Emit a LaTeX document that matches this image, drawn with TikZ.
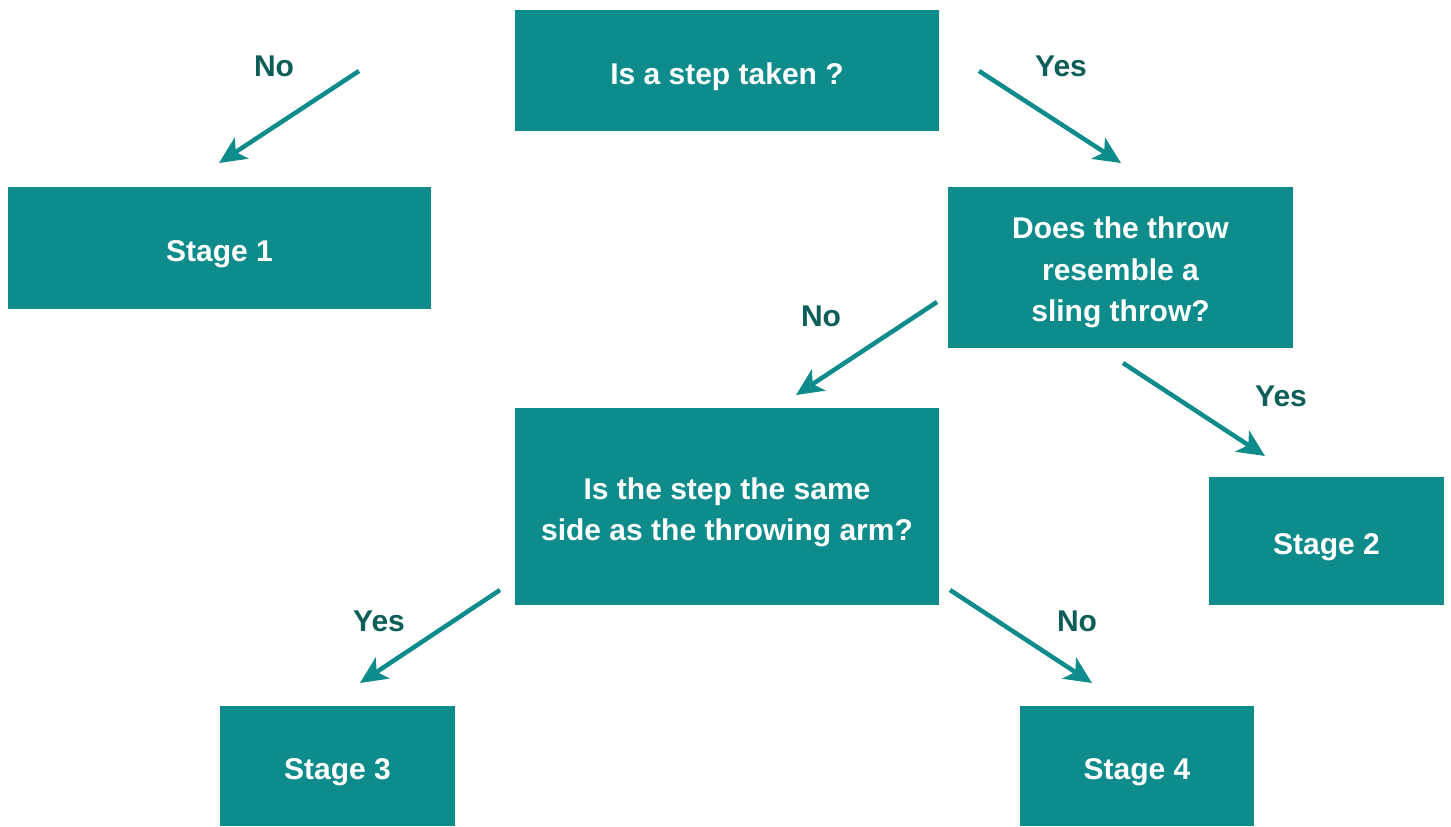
\documentclass[tikz,border=0pt]{standalone}
\usepackage{fontspec}
\setmainfont{Liberation Sans}
\usetikzlibrary{arrows.meta}
\definecolor{boxteal}{HTML}{0E8C8C}
\definecolor{labelteal}{HTML}{0C5E59}
\begin{document}
\begin{tikzpicture}[x=1pt,y=-1pt,
  box/.style={fill=boxteal, inner sep=0pt},
  boxtext/.style={text=white, align=center, inner sep=0pt,
    font=\bfseries\fontsize{30}{41.5}\selectfont},
  answer/.style={text=labelteal, inner sep=0pt, font=\bfseries\fontsize{30}{36}\selectfont},
  arr/.style={draw=boxteal, line width=4.5pt,
    -{Stealth[length=27pt, width=25pt, inset=7pt]}}]
\useasboundingbox (0,0) rectangle (1451,827);

% decision and stage boxes
\node[box, minimum width=424pt, minimum height=121pt] (q1) at (727,70.5) {};
\node[box, minimum width=423pt, minimum height=122pt] (s1) at (219.5,248) {};
\node[box, minimum width=345pt, minimum height=161pt] (q2) at (1120.5,267.5) {};
\node[box, minimum width=424pt, minimum height=197pt] (q3) at (727,506.5) {};
\node[box, minimum width=235pt, minimum height=128pt] (s2) at (1326.5,541) {};
\node[box, minimum width=235pt, minimum height=120pt] (s3) at (337.5,766) {};
\node[box, minimum width=234pt, minimum height=120pt] (s4) at (1137,766) {};

% box texts, set slightly below the box centres
\node[boxtext] (q1t) at ([yshift=-6pt]q1.center) {Is a step taken ?};
\node[boxtext] (s1t) at ([yshift=-6pt]s1.center) {Stage 1};
\node[boxtext] (q2t) at ([yshift=-5pt]q2.center) {Does the throw\\resemble a\\sling throw?};
\node[boxtext] (q3t) at ([yshift=-6pt]q3.center) {Is the step the same\\side as the throwing arm?};
\node[boxtext] (s2t) at ([yshift=-6pt]s2.center) {Stage 2};
\node[boxtext] (s3t) at ([yshift=-6pt]s3.center) {Stage 3};
\node[boxtext] (s4t) at ([yshift=-6pt]s4.center) {Stage 4};

% arrow end points
\coordinate (a1s) at (359,71);   \coordinate (a1e) at (219,163);
\coordinate (a2s) at (979,71);   \coordinate (a2e) at (1121,163);
\coordinate (a3s) at (937,302);  \coordinate (a3e) at (796,395);
\coordinate (a4s) at (1123,363); \coordinate (a4e) at (1265,456);
\coordinate (a5s) at (500,590);  \coordinate (a5e) at (360,683);
\coordinate (a6s) at (950,590);  \coordinate (a6e) at (1092,683);

\draw[arr] (a1s) -- (a1e);
\draw[arr] (a2s) -- (a2e);
\draw[arr] (a3s) -- (a3e);
\draw[arr] (a4s) -- (a4e);
\draw[arr] (a5s) -- (a5e);
\draw[arr] (a6s) -- (a6e);

% branch answers
\node[answer] (l1) at (274,66) {No};
\node[answer] (l2) at (1061,66) {Yes};
\node[answer] (l3) at (821,316) {No};
\node[answer] (l4) at (1281,396) {Yes};
\node[answer] (l5) at (379,621) {Yes};
\node[answer] (l6) at (1077,621) {No};
\end{tikzpicture}
\end{document}
